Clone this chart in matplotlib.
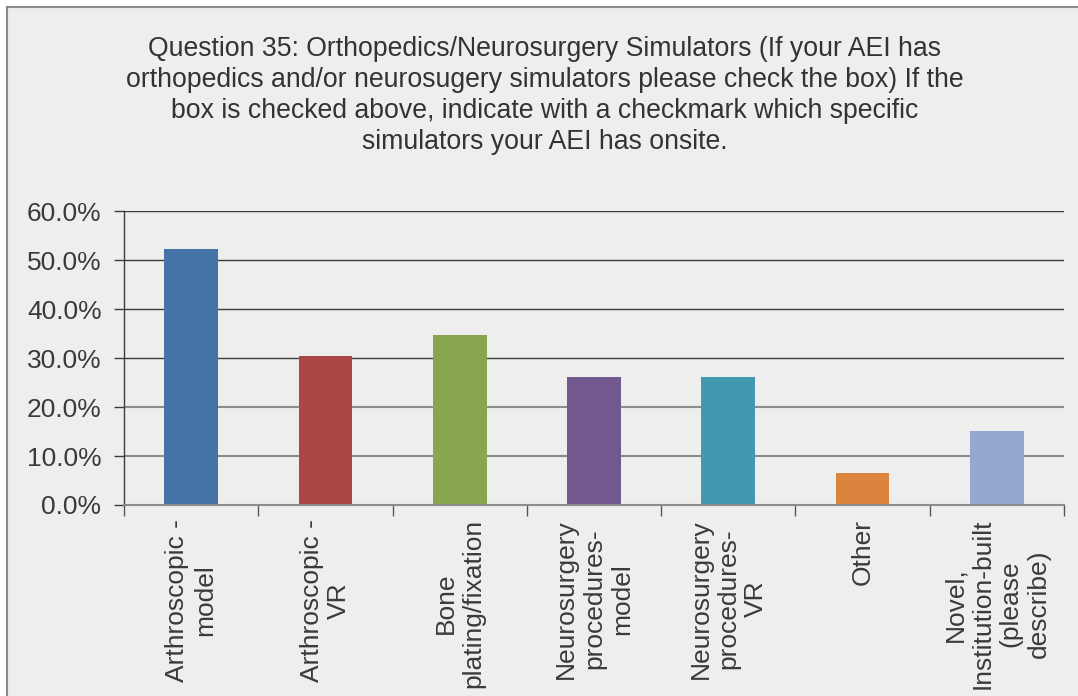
import matplotlib
matplotlib.use("Agg")
import matplotlib.pyplot as plt
from matplotlib.patches import Rectangle
import numpy as np

categories = [
    "Arthroscopic -\nmodel",
    "Arthroscopic -\nVR",
    "Bone\nplating/fixation",
    "Neurosurgery\nprocedures-\nmodel",
    "Neurosurgery\nprocedures-\nVR",
    "Other",
    "Novel,\nInstitution-built\n(please\ndescribe)",
]
values = [52.2, 30.4, 34.8, 26.1, 26.1, 6.5, 15.2]
colors = ["#4573a7", "#aa4644", "#89a54e", "#71588f", "#4298af", "#db843d", "#93a9cf"]
yticks = [0, 10, 20, 30, 40, 50, 60]
title = ("Question 35: Orthopedics/Neurosurgery Simulators (If your AEI has\n"
         "orthopedics and/or neurosugery simulators please check the box) If the\n"
         "box is checked above, indicate with a checkmark which specific\n"
         "simulators your AEI has onsite.")

W, H = 1078, 696
fig = plt.figure(figsize=(W / 100, H / 100), dpi=100)
fig.patch.set_facecolor("white")

# chart frame
fig.patches.append(Rectangle((7 / W, -0.1), 1.2, 1.1 - 7 / H, transform=fig.transFigure,
                             facecolor="#eeeeee", edgecolor="#8a8a8a", lw=1.5, zorder=-10))

ax = fig.add_axes([124 / W, 1 - 505 / H, (1064 - 124) / W, (505 - 211.3) / H])
ax.set_facecolor("none")
ax.set_zorder(5)

x = np.arange(len(categories))
ax.bar(x, values, width=0.4, color=colors, zorder=3)
ax.set_xlim(-0.5, len(categories) - 0.5)
ax.set_ylim(0, 60)

# gridlines
for t in yticks[1:]:
    c = "#3c3c3c" if t >= 30 else "#8c8c8c"
    lw = 1.0 if t >= 30 else 1.5
    ax.axhline(t, color=c, lw=lw, zorder=1)

for s in ["top", "right"]:
    ax.spines[s].set_visible(False)
ax.spines["left"].set_color("#3c3c3c")
ax.spines["left"].set_linewidth(1.0)
ax.spines["bottom"].set_color("#8c8c8c")
ax.spines["bottom"].set_linewidth(1.5)
ax.spines["bottom"].set_zorder(4)

lab_font = ["Liberation Sans", "DejaVu Sans"]
ax.set_yticks(yticks)
ax.set_yticklabels([f"{v:.1f}%" for v in yticks], fontsize=19, color="#3a3a3a", family=lab_font)
ax.tick_params(axis="y", direction="out", length=7, width=1, color="#3c3c3c", pad=9.2)

ax.set_xticks(x)
ax.set_xticklabels(categories, rotation=90, fontsize=19, color="#3a3a3a", family=lab_font,
                   va="top", ha="center", multialignment="center", linespacing=1.2)
ax.tick_params(axis="x", which="major", length=0, pad=10)
ax.set_xticks(np.arange(-0.5, len(categories)), minor=True)
ax.tick_params(axis="x", which="minor", direction="out", length=8, width=1, color="#555555")

fig.text(545 / W, 1 - 36 / H, title, ha="center", va="top", fontsize=19.2, color="#333333",
         family=["Liberation Sans Narrow", "Liberation Sans", "DejaVu Sans"],
         linespacing=1.25)

fig.savefig("out.png", dpi=100)
